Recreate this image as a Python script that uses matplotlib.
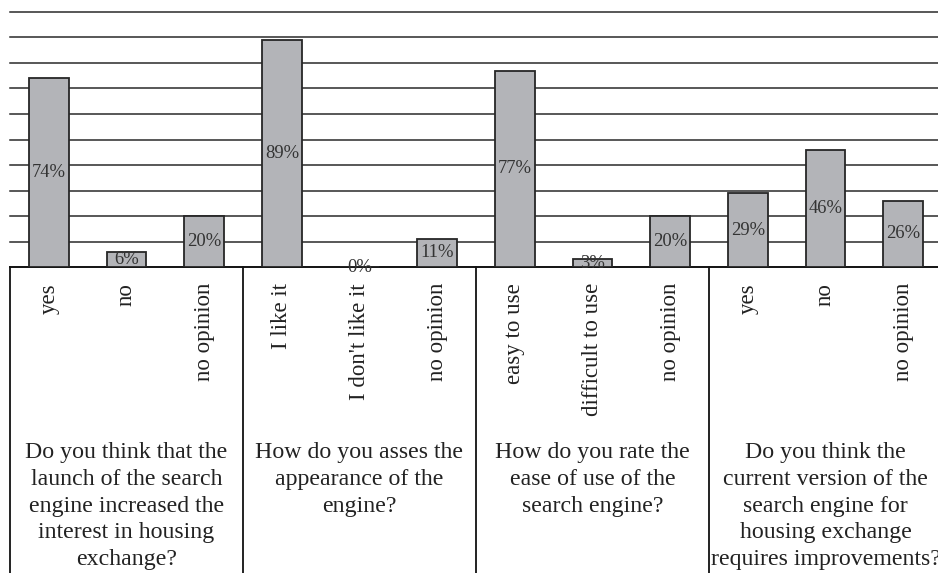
import matplotlib
matplotlib.use("Agg")
import matplotlib.pyplot as plt
import numpy as np

# données
answers = ["yes", "no", "no opinion",
           "I like it", "I don't like it", "no opinion",
           "easy to use", "difficult to use", "no opinion",
           "yes", "no", "no opinion"]
percents = [74, 6, 20,
            89, 0, 11,
            77, 3, 20,
            29, 46, 26]
questions = ["Do you think that the\nlaunch of the search\nengine increased the\ninterest in housing\nexchange?",
             "How do you asses the\nappearance of the\nengine?",
             "How do you rate the\nease of use of the\nsearch engine?",
             "Do you think the\ncurrent version of the\nsearch engine for\nhousing exchange\nrequires improvements?"]
group_size = 3

plt.rcParams['font.family'] = ['Liberation Serif', 'DejaVu Serif']

W, H = 938, 573
fig = plt.figure(figsize=(W / 100, H / 100), dpi=100)
# axe principal : x de 10 a 942 px, y de 12 a 267 px
ax = fig.add_axes([10 / W, (H - 267) / H, 932 / W, 255 / H])

x = np.arange(len(answers))
bars = ax.bar(x, percents, width=0.515, color='#b3b4b8',
              edgecolor='#262626', linewidth=1.3, zorder=3)

for xi, v in zip(x, percents):
    ax.text(xi, v / 2, f"{v}%", ha='center', va='center',
            fontsize=13.4, color='#333333', zorder=4)

ax.set_xlim(-0.5, len(answers) - 0.5)
ax.set_ylim(0, 100)
ax.set_yticks(np.arange(0, 101, 10))
ax.yaxis.grid(True, color='#2a2a2a', linewidth=1.1, zorder=0)
for gl in ax.get_ygridlines():
    gl.set_clip_on(False)
ax.tick_params(axis='y', length=0, labelleft=False)
ax.tick_params(axis='x', length=0, pad=11.5)
ax.set_xticks(x)
ax.set_xticklabels(answers, rotation=90, fontsize=16.5, color='#222222')
for s in ['left', 'right', 'top']:
    ax.spines[s].set_visible(False)
ax.spines['bottom'].set_color('#111111')
ax.spines['bottom'].set_linewidth(1.3)

# separateurs de groupes sous l'axe
tr = ax.get_xaxis_transform()
for g in range(len(questions)):
    x0 = g * group_size - 0.5
    ax.plot([x0, x0], [0, -1.3], transform=tr, color='#111111',
            linewidth=1.3, clip_on=False)
    xc = g * group_size + (group_size - 1) / 2
    ax.text(xc, -0.685, questions[g], transform=tr, ha='center', va='top',
            fontsize=17.2, color='#222222', linespacing=1.37, clip_on=False)

fig.savefig("out.png", dpi=100)
